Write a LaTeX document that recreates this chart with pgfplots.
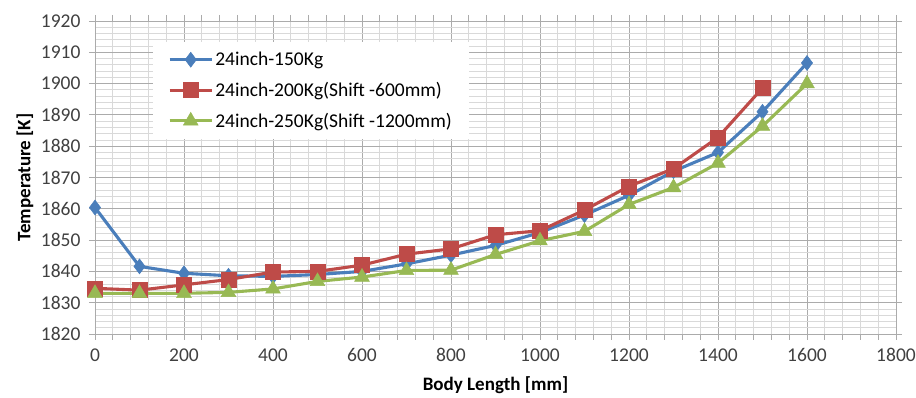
\documentclass[border=0pt]{standalone}
\usepackage{fontspec}
\setmainfont{Carlito}
\usepackage{pgfplots}
\pgfplotsset{compat=1.18}
\definecolor{sblue}{HTML}{4A7EBB}
\definecolor{sred}{HTML}{BE4B48}
\definecolor{sgreen}{HTML}{98B954}
\definecolor{gmaj}{HTML}{ABABAB}
\definecolor{gmin}{HTML}{D9D9D9}
\definecolor{tlab}{HTML}{404040}
\begin{document}
\begin{tikzpicture}[x=1pt,y=1pt]
\useasboundingbox (-95,-64) rectangle (821,334);
\begin{axis}[
  at={(0,0)}, anchor=south west,
  scale only axis, width=801pt, height=313pt,
  xmin=0, xmax=1800, ymin=1820, ymax=1920,
  xtick distance=200, ytick distance=10,
  minor x tick num=4, minor y tick num=4,
  grid=both,
  major grid style={color=gmaj, line width=0.9pt},
  minor grid style={color=gmin, line width=0.8pt},
  axis line style={gmaj, line width=0.9pt},
  tick align=outside, major tick length=6pt, minor tick length=6pt,
  tick style={gmaj, line width=0.9pt},
  minor y tick style={draw=none},
  /pgf/number format/assume math mode=true,
  /pgf/number format/1000 sep={},
  ticklabel style={font=\fontsize{19.5}{19.5}\selectfont, text=tlab},
  xticklabel style={yshift=-5pt},
  yticklabel style={xshift=-5pt},
  every axis x label/.style={at={(axis description cs:0.5,-0.163)}, anchor=center},
  every axis y label/.style={at={(axis description cs:-0.0874,0.5)}, rotate=90, anchor=center},
  label style={font=\fontsize{19}{19}\selectfont\bfseries},
  xlabel={Body Length [mm]},
  ylabel={Temperature [K]},
  legend style={at={(rel axis cs:0.0724,0.933)}, anchor=north west, draw=none, fill=white,
    font=\fontsize{19.5}{19.5}\selectfont, inner xsep=15pt, inner ysep=8pt,
    row sep=11pt, cells={anchor=west}},
  legend image code/.code={\draw[mark repeat=2,mark phase=2] plot coordinates {(0pt,0pt) (21pt,0pt) (42pt,0pt)};},
  every axis plot/.append style={line width=3.1pt},
]
\addplot[color=sblue, mark=diamond*, mark size=7.5pt, mark options={line width=0.5pt}] coordinates {
(0,1860.4) (100,1841.6) (200,1839.4) (300,1838.6) (400,1838.4) (500,1839.0) (600,1840.0) (700,1842.4) (800,1845.2) (900,1848.3) (1000,1852.4) (1100,1858.0) (1200,1864.3) (1300,1872.0) (1400,1878.0) (1500,1891.0) (1600,1906.6)};
\addlegendentry{24inch-150Kg}
\addplot[color=sred, mark=square*, mark size=7.5pt, mark options={line width=0.5pt}] coordinates {
(0,1834.6) (100,1834.0) (200,1835.7) (300,1837.4) (400,1839.8) (500,1840.0) (600,1842.0) (700,1845.5) (800,1847.2) (900,1851.7) (1000,1853.0) (1100,1859.6) (1200,1867.2) (1300,1872.8) (1400,1882.8) (1500,1898.6)};
\addlegendentry{24inch-200Kg(Shift -600mm)}
\addplot[color=sgreen, mark=triangle*, mark size=8.5pt, mark options={line width=0.5pt}] coordinates {
(0,1833.0) (100,1833.0) (200,1833.0) (300,1833.3) (400,1834.4) (500,1836.8) (600,1838.2) (700,1840.3) (800,1840.4) (900,1845.4) (1000,1849.8) (1100,1852.8) (1200,1861.4) (1300,1866.8) (1400,1874.6) (1500,1886.4) (1600,1900.0)};
\addlegendentry{24inch-250Kg(Shift -1200mm)}
\end{axis}
\end{tikzpicture}
\end{document}
